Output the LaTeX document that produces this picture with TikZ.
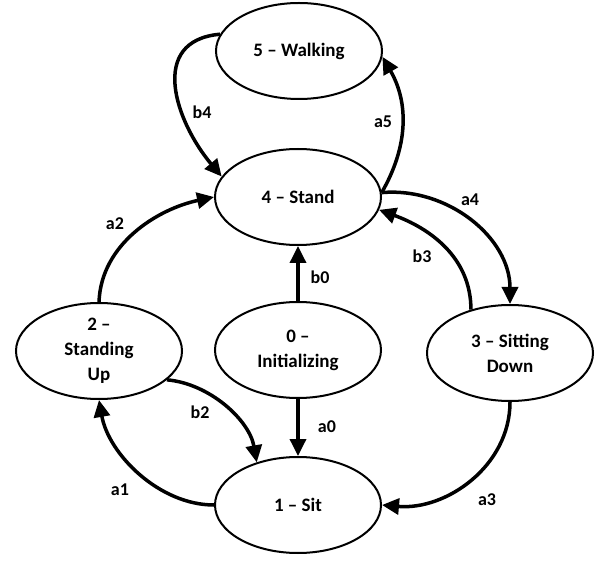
\documentclass[tikz,border=0pt]{standalone}
\usepackage{fontspec}
\setmainfont{Carlito}
\usetikzlibrary{shapes.geometric,arrows.meta}
\begin{document}
\begin{tikzpicture}[x=1pt,y=-1pt,
  state/.style={draw, line width=2pt, ellipse, minimum width=166pt, minimum height=96pt, inner sep=0pt, align=center, font=\fontsize{19}{25}\selectfont\bfseries},
  tr/.style={line width=3.5pt, -{Triangle[length=17pt,width=16pt]}},
  lbl/.style={font=\fontsize{18}{20}\selectfont\bfseries, inner sep=0pt}]
\useasboundingbox (0,0) rectangle (597,561);
\node[state] (n5) at (299,51) {5 -- Walking};
\node[state] (n4) at (298,197) {4 -- Stand};
\node[state] (n0) at (298,350) {0 --\\Initializing};
\node[state] (n2) at (99,351) {2 --\\Standing\\Up};
\node[state] (n3) at (510,353) {3 -- Sitting\\Down};
\node[state] (n1) at (298,505) {1 -- Sit};
% connectors
\draw[tr] (n5.168) to[out=185, in=130, looseness=1.3] (n4.165);
\draw[tr] (n4.3) to[out=60, in=-60, looseness=1] (n5.-4);
\draw[tr] (n2.90) to[out=88, in=192, looseness=0.95] (n4.180);
\draw[tr] (n0.90) -- (n4.270);
\draw[tr] (n0.270) -- (n1.90);
\draw[tr] (n2.-23) to[out=-5, in=100, looseness=0.9] (n1.134);
\draw[tr] (n1.180) to[out=180, in=-80, looseness=0.9] (n2.270);
\draw[tr] (n4.3) to[out=5, in=90, looseness=1] (n3.90);
\draw[tr] (n3.132) to[out=90, in=-20, looseness=1] (n4.-9);
\draw[tr] (n3.270) to[out=-90, in=-5, looseness=1] (n1.0);
% labels
\node[lbl] (lb4) at (202,112) {b4};
\node[lbl] (la5) at (383,122) {a5};
\node[lbl] (la2) at (115,224) {a2};
\node[lbl] (lb0) at (320,277) {b0};
\node[lbl] (la0) at (327,427) {a0};
\node[lbl] (lb2) at (200,412) {b2};
\node[lbl] (la1) at (120,490) {a1};
\node[lbl] (la4) at (470,200) {a4};
\node[lbl] (lb3) at (422,256) {b3};
\node[lbl] (la3) at (487,500) {a3};
\end{tikzpicture}
\end{document}
